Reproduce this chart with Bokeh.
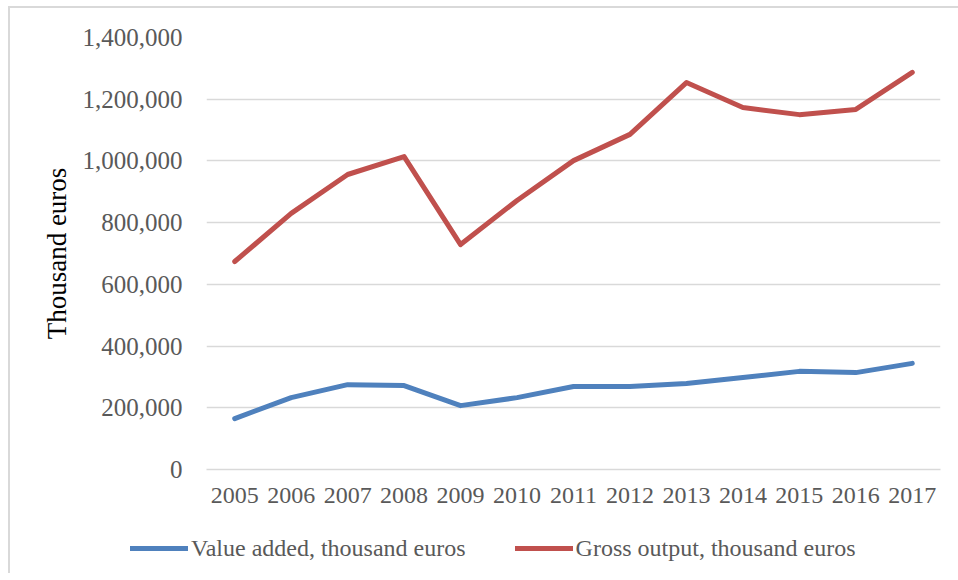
from bokeh.plotting import figure
from bokeh.layouts import column
from bokeh.models import (FactorRange, Range1d, NumeralTickFormatter, FixedTicker,
                          Legend, LegendItem)
from bokeh.embed import file_html
from bokeh.resources import INLINE

years = ["2005", "2006", "2007", "2008", "2009", "2010", "2011",
         "2012", "2013", "2014", "2015", "2016", "2017"]
value_added = [165000, 233000, 275000, 272000, 207000, 233000, 269000,
               269000, 279000, 298000, 318000, 314000, 344000]
gross_output = [674000, 830000, 956000, 1014000, 729000, 872000, 1001000,
                1086000, 1254000, 1173000, 1150000, 1167000, 1287000]
y_ticks = [0, 200000, 400000, 600000, 800000, 1000000, 1200000, 1400000]
series_names = ["Value added, thousand euros", "Gross output, thousand euros"]
series_colors = ["#4f81bd", "#c0504d"]

FONT = "Liberation Serif"
GRID = "#d9d9d9"
TXT = "#595959"

p = figure(width=948, height=511, x_range=FactorRange(*years),
           y_range=Range1d(0, 1400000), output_backend="svg",
           toolbar_location=None, min_border_left=196, min_border_right=18,
           min_border_top=29, min_border_bottom=50)
p.frame_align = False
p.outline_line_color = None
p.background_fill_color = "white"
p.border_fill_color = "white"

p.xgrid.grid_line_color = None
p.ygrid.grid_line_color = GRID
p.ygrid.grid_line_width = 1.3

p.yaxis.ticker = FixedTicker(ticks=y_ticks)
p.yaxis.formatter = NumeralTickFormatter(format="0,0")
p.yaxis.axis_line_color = None
p.yaxis.major_tick_line_color = None
p.yaxis.minor_tick_line_color = None
p.yaxis.major_label_standoff = 18
p.yaxis.major_label_text_font = FONT
p.yaxis.major_label_text_font_size = "25px"
p.yaxis.major_label_text_color = TXT
p.yaxis.axis_label = "Thousand euros"
p.yaxis.axis_label_text_font = FONT
p.yaxis.axis_label_text_font_size = "27px"
p.yaxis.axis_label_text_font_style = "normal"
p.yaxis.axis_label_text_color = "black"
p.yaxis.axis_label_standoff = 8

p.xaxis.axis_line_color = GRID
p.xaxis.axis_line_width = 1.3
p.xaxis.major_tick_line_color = None
p.xaxis.minor_tick_line_color = None
p.xaxis.major_label_standoff = 12
p.xaxis.major_label_text_font = FONT
p.xaxis.major_label_text_font_size = "24px"
p.xaxis.major_label_text_color = TXT

for vals, col in zip([value_added, gross_output], series_colors):
    p.line(years, vals, line_color=col, line_width=5,
           line_join="round", line_cap="round")

# legend strip below the chart (its own lines lie outside its empty view range)
pl = figure(width=948, height=54, x_range=FactorRange(*years), y_range=Range1d(-2, -1),
            x_axis_type=None, y_axis_type=None, output_backend="svg",
            toolbar_location=None, min_border=0)
pl.frame_align = False
pl.outline_line_color = None
pl.border_fill_color = "white"
pl.background_fill_color = "white"
items = []
for name, col, vals in zip(series_names, series_colors, [value_added, gross_output]):
    r = pl.line(years, vals, line_color=col, line_width=5, line_cap="round")
    items.append(LegendItem(label=name, renderers=[r]))

legend = Legend(items=items, orientation="horizontal", location=(120, 11),
                padding=0, margin=0, spacing=49, label_standoff=3,
                glyph_width=58, glyph_height=28, label_height=28,
                border_line_color=None, background_fill_alpha=0,
                label_text_font=FONT, label_text_font_size="24px",
                label_text_color=TXT)
pl.add_layout(legend, "center")

layout = column(p, pl, spacing=0)
layout.styles = {"border-left": "2px solid #d9d9d9", "border-top": "2px solid #d9d9d9",
                 "margin-left": "8px", "margin-top": "6px"}

open("out.html", "w").write(file_html(layout, INLINE))
